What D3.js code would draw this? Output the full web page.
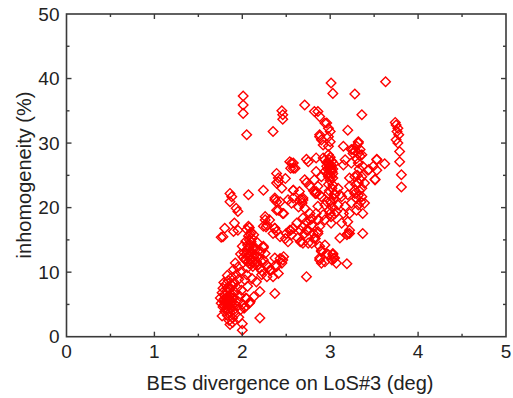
<!DOCTYPE html>
<html>
<head>
<meta charset="utf-8">
<script src="https://cdn.jsdelivr.net/npm/d3@7"></script>
<style>
  body { margin: 0; background: #fff; }
  svg { display: block; font-family: "Liberation Sans", Arial, sans-serif; }
  .tick-label { font-size: 19px; fill: #222; }
  .axis-label { font-size: 20px; fill: #222; }
</style>
</head>
<body>
<script>
// tick values
var xTicks = [0, 1, 2, 3, 4, 5];
var yTicks = [0, 10, 20, 30, 40, 50];

// [divergence (deg), inhomogeneity (%)], grouped by region
var lowCluster = [
  [1.75,6.0],[1.76,5.2],[1.77,6.8],[1.78,4.6],[1.78,7.5],[1.79,5.8],[1.80,3.9],[1.80,6.4],
  [1.81,8.1],[1.81,5.0],[1.82,4.3],[1.82,7.0],[1.83,5.6],[1.83,3.3],[1.84,6.2],[1.84,8.7],
  [1.85,4.8],[1.85,5.9],[1.86,7.4],[1.86,3.8],[1.87,6.6],[1.87,4.4],[1.88,5.3],[1.88,9.2],
  [1.89,7.9],[1.89,2.9],[1.90,6.0],[1.90,4.1],[1.91,8.4],[1.91,5.1],[1.92,3.5],[1.92,6.9],
  [1.93,9.6],[1.94,4.7],[1.94,7.6],[1.95,5.5],[1.96,8.9],[1.96,3.0],[1.97,6.3],[1.98,10.0],
  [1.98,4.2],[1.99,7.2],[2.00,5.0],[2.00,2.0],[2.00,1.0],[1.86,1.9],[1.79,8.4],[1.77,3.2],
  [1.83,9.5],[1.90,10.4],[1.92,11.4],[1.95,10.8],[1.85,2.5],[1.89,2.2],[2.02,4.4],[2.04,6.0],
  [2.06,7.8],[2.03,8.8],[2.08,5.2],[2.05,9.6],[2.20,7.0],[2.16,8.5],[2.13,6.2],[2.09,5.4],
  [2.11,9.0],[2.05,5.9],[2.03,4.6],[2.22,9.6],[2.20,2.9],[1.80,5.4],[1.82,6.0],[1.84,5.0],
  [1.86,5.6],[1.86,6.3],[1.84,4.2],[1.88,4.8],[1.83,7.6],[1.87,8.1],[1.79,4.9]
];

var midCluster = [
  [2.05,16.6],[2.08,16.9],[2.10,16.2],[2.07,15.6],[2.11,15.2],[2.04,14.8],[2.09,14.3],[2.13,14.0],
  [2.06,13.6],[2.10,13.1],[2.02,13.0],[2.14,12.7],[2.07,12.4],[2.11,12.0],[2.04,11.8],[2.16,11.6],
  [2.08,11.3],[2.12,10.9],[2.18,11.1],[2.20,10.6],[2.22,10.2],[2.15,13.5],[2.19,12.3],[2.01,12.3],
  [2.00,14.0],[1.98,12.8],[2.06,10.7],[2.13,15.8],[2.17,14.6],[2.21,13.2],[2.24,13.8],[2.26,12.9],
  [2.24,11.9],[2.09,12.8],[2.12,11.5],[2.07,17.1],[2.08,15.0],[2.09,15.9],[2.10,14.7],[2.06,14.2],
  [2.12,13.6],[2.08,13.8],[2.05,12.9],[2.09,11.9],[2.13,12.3],[2.03,12.0],[2.15,11.2],[2.07,11.7]
];

var leftScatter = [
  [1.86,22.2],[1.88,21.7],[1.86,20.9],[1.93,19.9],[1.95,19.4],[1.91,17.6],[1.80,16.8],[1.78,15.5],
  [1.90,16.3],[1.95,16.5],[2.07,22.0],[2.24,22.7],[2.39,25.3],[2.41,24.6],[2.39,23.8],[2.37,21.5],
  [2.39,20.9],[2.41,19.6],[2.26,18.1],[2.28,17.3],[2.24,17.1],[2.37,16.8],[2.39,16.3],[1.76,15.4]
];

var upperScatter = [
  [2.01,37.3],[2.01,35.9],[2.01,34.6],[2.05,31.3],[2.35,31.8],[2.45,35.0],[2.46,34.4],[2.46,33.7],
  [2.71,35.9],[2.82,34.9],[2.88,34.1],[2.94,33.1],[3.01,39.3],[3.03,37.7],[2.54,27.1],[2.58,26.9],
  [2.73,27.5],[2.84,27.7],[2.88,31.0],[2.90,30.5],[2.92,29.7],[3.28,37.6],[3.36,34.4],[3.63,39.5],
  [2.86,34.9],[2.96,33.1],[2.98,32.3],[3.00,31.8],[3.20,32.0],[2.88,31.3],[2.98,31.0],[3.00,30.2],
  [2.98,29.5],[3.15,29.5],[3.32,30.2],[3.30,29.5],[3.34,29.0],[3.32,28.4],[3.36,28.2],[3.24,29.0],
  [3.26,28.4]
];

var bandScatter = [
  [2.56,26.9],[2.58,26.1],[2.75,27.1],[2.92,27.7],[2.41,24.0],[2.45,23.0],[2.58,22.7],[2.65,22.5],
  [2.69,21.5],[2.58,21.5],[2.37,21.2],[2.39,19.6],[2.46,19.1],[2.26,18.6],[2.31,18.1],[2.37,16.8],
  [2.35,16.0],[2.43,15.5],[2.58,16.8],[2.62,17.6],[2.69,18.4],[2.77,18.1],[2.79,17.3],[2.73,16.5],
  [2.56,15.8],[2.52,14.7],[2.63,15.3],[2.67,14.7],[2.75,14.5],[2.82,15.3],[2.86,16.0],[2.88,14.0],
  [2.90,13.2],[2.88,12.2],[2.90,11.4],[2.24,14.0],[2.22,11.6],[2.28,11.1],[2.37,12.2],[2.46,11.9],
  [2.39,10.9],[2.31,10.3],[2.73,9.3],[2.37,6.7],[2.28,9.3],[2.30,10.8],[2.33,10.3],[2.38,11.1],
  [2.43,12.1],[2.45,11.4],[2.41,9.8],[2.35,9.3],[2.47,12.4],[2.58,22.7],[2.66,21.3],[2.68,20.7],
  [2.69,21.2],[2.64,20.1],[2.71,19.9],[2.77,19.1],[2.79,18.3],[2.73,17.8],[2.69,17.0],[2.66,16.5],
  [2.75,16.5],[2.81,16.0],[2.71,16.0],[2.83,15.2],[2.79,14.5],[2.69,14.5],[2.66,14.7],[2.52,21.2],
  [2.56,20.7],[2.54,16.5],[2.49,15.2],[2.50,16.0],[2.55,16.5],[2.81,22.6],[2.83,22.2],[2.71,24.3],
  [2.73,23.9],[2.77,23.3],[2.49,24.5],[2.43,20.9],[2.47,19.1],[2.27,17.0],[2.55,26.1],[2.60,26.1]
];

var col3 = [
  [2.94,27.4],[2.98,26.9],[2.96,26.4],[3.01,26.6],[3.00,25.8],[2.94,25.6],[3.03,25.3],[2.98,24.8],
  [2.90,24.8],[3.17,27.4],[3.15,26.6],[3.24,26.9],[3.32,26.9],[3.37,26.4],[3.43,25.8],[3.49,26.4],
  [3.53,27.4],[3.53,25.8],[3.51,24.3],[3.36,24.8],[3.28,24.8],[3.22,24.6],[3.32,23.8],[3.39,23.8],
  [3.36,23.0],[3.28,22.7],[3.22,23.3],[2.84,25.6],[2.82,24.3],[2.86,23.3],[2.84,22.5],[2.88,22.0],
  [3.03,23.5],[3.09,23.0],[3.05,22.2],[3.11,22.0],[2.98,28.2],[3.00,27.8],[3.02,27.2],[2.99,26.2],
  [3.03,26.0],[2.97,25.2],[3.01,24.8],[3.00,24.2],[2.98,23.6],[3.02,23.0],[2.99,22.6],[3.04,21.4],
  [3.00,21.0],[2.96,20.9],[3.03,20.0],[2.99,19.6],[3.05,19.0],[3.01,18.6],[3.28,28.8],[3.30,27.6],
  [3.33,26.0],[3.31,25.0],[3.34,24.4],[3.29,23.6],[3.33,22.6],[3.30,21.4],[3.35,20.9],[3.32,21.9],
  [3.62,26.8],[3.44,25.9],[3.34,28.0],[3.32,30.0],[3.26,29.0],[2.99,27.4],[3.01,26.0],[2.97,26.0],
  [3.02,25.6],[2.99,25.3],[3.04,26.8],[2.96,27.0],[3.00,26.4],[3.03,24.6]
];

var lowBand3 = [
  [2.84,22.2],[2.90,21.7],[2.98,22.2],[3.05,22.0],[3.13,21.7],[3.20,22.0],[3.28,22.2],[3.36,21.7],
  [3.39,20.7],[3.32,20.4],[3.24,20.7],[3.17,20.2],[3.09,20.4],[3.01,20.7],[2.94,20.4],[2.86,20.2],
  [2.84,19.1],[2.92,18.9],[3.00,19.1],[3.07,19.4],[3.15,19.1],[3.22,19.1],[3.30,19.6],[3.37,19.1],
  [2.86,18.1],[2.94,18.1],[3.01,17.6],[3.13,17.6],[3.20,17.8],[2.86,16.3],[2.88,17.1],[3.37,16.0],
  [3.22,16.0],[3.19,15.8],[3.11,15.3],[2.94,14.2],[2.90,13.4],[2.96,12.9],[2.88,11.9],[2.94,11.6],
  [3.03,12.7],[3.05,12.2],[3.07,11.4],[3.22,16.5],[3.20,16.0],[2.98,12.7],[3.03,12.9],[3.19,11.3],
  [3.04,12.1],[3.02,11.9]
];

var col38 = [
  [3.74,33.2],[3.75,32.8],[3.77,32.3],[3.76,31.8],[3.78,31.3],[3.75,30.5],[3.77,30.0],[3.79,28.7],
  [3.79,27.1],[3.81,25.1],[3.81,23.2],[3.53,27.5],[3.51,24.4]
];

var allPoints = [].concat(lowCluster, midCluster, leftScatter, upperScatter,
                          bandScatter, col3, lowBand3, col38);

var outerWidth = 513, outerHeight = 398;
var margin = {top: 14, right: 7, bottom: 61.3, left: 66.5};
var innerWidth = outerWidth - margin.left - margin.right,
    innerHeight = outerHeight - margin.top - margin.bottom;

var svg = d3.select("body").append("svg")
    .attr("width", outerWidth)
    .attr("height", outerHeight);

var plot = svg.append("g")
    .attr("transform", "translate(" + margin.left + "," + margin.top + ")");

var xScale = d3.scaleLinear().domain([0, 5]).range([0, innerWidth]);
var yScale = d3.scaleLinear().domain([0, 50]).range([innerHeight, 0]);

// points
var diamond = d3.symbol().type(d3.symbolSquare).size(46);
plot.append("g")
    .selectAll("path")
    .data(allPoints)
    .join("path")
    .attr("d", diamond)
    .attr("transform", function(d) {
        return "translate(" + xScale(d[0]) + "," + yScale(d[1]) + ") rotate(45)";
    })
    .attr("fill", "none")
    .attr("stroke", "#ff0000")
    .attr("stroke-width", 1.4);

// frame with inward ticks on all four sides
var axisColor = "#3a3a3a";
var frame = plot.append("g");
frame.append("rect")
    .attr("width", innerWidth)
    .attr("height", innerHeight)
    .attr("fill", "none")
    .attr("stroke", axisColor)
    .attr("stroke-width", 1.6);

var xMinor = d3.range(0.5, 5, 1);
var yMinor = d3.range(5, 50, 10);

function xTickLines(vals, len) {
    vals.forEach(function(v) {
        var x = xScale(v);
        frame.append("line").attr("x1", x).attr("x2", x)
            .attr("y1", innerHeight).attr("y2", innerHeight - len)
            .attr("stroke", axisColor).attr("stroke-width", 1.4);
        frame.append("line").attr("x1", x).attr("x2", x)
            .attr("y1", 0).attr("y2", len)
            .attr("stroke", axisColor).attr("stroke-width", 1.4);
    });
}
function yTickLines(vals, len) {
    vals.forEach(function(v) {
        var y = yScale(v);
        frame.append("line").attr("y1", y).attr("y2", y)
            .attr("x1", 0).attr("x2", len)
            .attr("stroke", axisColor).attr("stroke-width", 1.4);
        frame.append("line").attr("y1", y).attr("y2", y)
            .attr("x1", innerWidth).attr("x2", innerWidth - len)
            .attr("stroke", axisColor).attr("stroke-width", 1.4);
    });
}
xTickLines(xTicks.slice(1, -1), 5);
xTickLines(xMinor, 3);
yTickLines(yTicks.slice(1, -1), 5);
yTickLines(yMinor, 3);

// tick labels
plot.append("g").selectAll("text")
    .data(xTicks)
    .join("text")
    .attr("class", "tick-label")
    .attr("x", function(d) { return xScale(d); })
    .attr("y", innerHeight + 21)
    .attr("text-anchor", "middle")
    .text(function(d) { return d; });

plot.append("g").selectAll("text")
    .data(yTicks)
    .join("text")
    .attr("class", "tick-label")
    .attr("x", -7)
    .attr("y", function(d) { return yScale(d); })
    .attr("dy", "0.35em")
    .attr("text-anchor", "end")
    .text(function(d) { return d; });

// axis titles
svg.append("text")
    .attr("class", "axis-label")
    .attr("x", 290)
    .attr("y", 390)
    .attr("text-anchor", "middle")
    .text("BES divergence on LoS#3 (deg)");

svg.append("text")
    .attr("class", "axis-label")
    .attr("transform", "translate(31,175) rotate(-90)")
    .attr("text-anchor", "middle")
    .text("inhomogeneity (%)");
</script>
</body>
</html>
